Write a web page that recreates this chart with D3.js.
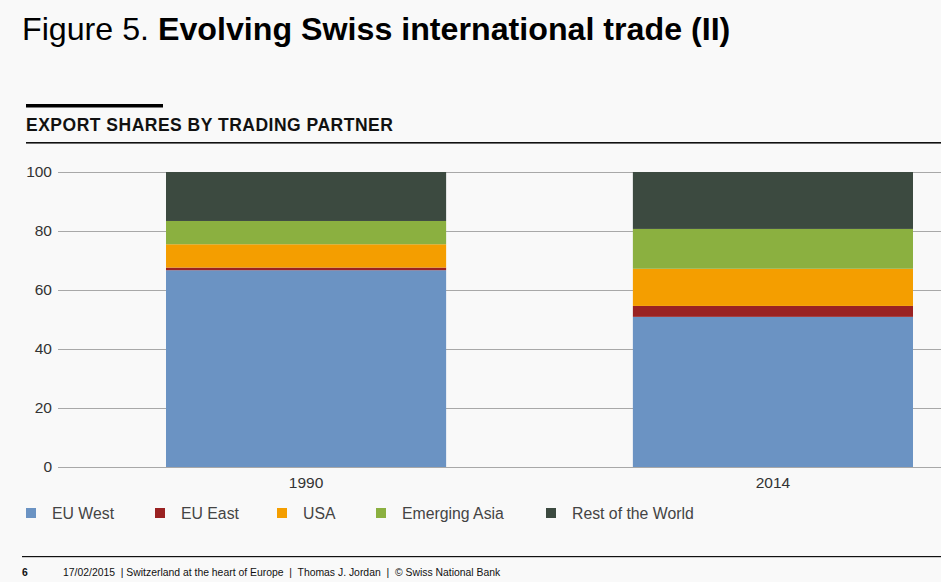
<!DOCTYPE html>
<html><head><meta charset="utf-8">
<script src="https://cdn.jsdelivr.net/npm/d3@7"></script>
<style>
html,body{margin:0;padding:0;background:#f9f9f9;}
svg{display:block;}
</style></head>
<body>
<script>
const years = ["1990", "2014"];
const seriesNames = ["EU West", "EU East", "USA", "Emerging Asia", "Rest of the World"];
const euWest = [66.7, 50.9];
const euEast = [0.9, 3.7];
const usa = [7.9, 12.6];
const emergingAsia = [7.9, 13.5];
const restOfWorld = [16.6, 19.3];
const yTicks = [0, 20, 40, 60, 80, 100];
const colors = ["#6b93c3", "#9a2222", "#f49e00", "#8bb040", "#3c4a40"];

const W = 941, H = 582;
const FONT = "Liberation Sans, Arial, sans-serif";
const svg = d3.select("body").append("svg").attr("width", W).attr("height", H);
svg.append("rect").attr("width", W).attr("height", H).attr("fill", "#f9f9f9");

// Title
const title = svg.append("text").attr("x", 22).attr("y", 40)
  .attr("font-family", FONT).attr("font-size", 32.2).attr("fill", "#000");
title.append("tspan").text("Figure 5. ");
title.append("tspan").attr("font-weight", "bold").text("Evolving Swiss international trade (II)");

// Subtitle decoration
svg.append("rect").attr("x", 26).attr("y", 104).attr("width", 137).attr("height", 3.5).attr("fill", "#000");
svg.append("text").attr("x", 26).attr("y", 131)
  .attr("font-family", FONT).attr("font-size", 17.5).attr("font-weight", "bold")
  .attr("letter-spacing", 0.5).attr("fill", "#111").text("EXPORT SHARES BY TRADING PARTNER");
svg.append("rect").attr("x", 26).attr("y", 142).attr("width", W - 26).attr("height", 1.6).attr("fill", "#111");

// Scales
const x = d3.scaleBand().domain(years).range([166, 913]).paddingInner(0.4).paddingOuter(0);
const y = d3.scaleLinear().domain([0, 100]).range([467, 172]);

// Gridlines / y axis
const yAxis = d3.axisLeft(y).tickValues(yTicks).tickSize(-(W - 58)).tickPadding(6).tickFormat(d3.format("d"));
const gy = svg.append("g").attr("transform", "translate(58,0)").call(yAxis);
gy.select(".domain").remove();
gy.selectAll(".tick line").attr("stroke", "#a8a8a8").attr("stroke-width", 1);
gy.selectAll(".tick text").attr("font-family", FONT)
  .attr("font-size", 15.5).attr("fill", "#333").attr("x", -6);

// Stacked data
const table = years.map((yr, i) => ({
  year: yr,
  "EU West": euWest[i], "EU East": euEast[i], "USA": usa[i],
  "Emerging Asia": emergingAsia[i], "Rest of the World": restOfWorld[i]
}));
const stack = d3.stack().keys(seriesNames)(table);
svg.append("g").selectAll("g").data(stack).join("g")
  .attr("fill", (d, i) => colors[i])
  .selectAll("rect").data(d => d).join("rect")
  .attr("x", d => x(d.data.year))
  .attr("width", x.bandwidth())
  .attr("y", d => y(d[1]))
  .attr("height", d => y(d[0]) - y(d[1]));

// X axis labels
const xAxis = d3.axisBottom(x).tickSize(0).tickPadding(10);
const gx = svg.append("g").attr("transform", "translate(0,467)").call(xAxis);
gx.select(".domain").remove();
gx.selectAll(".tick text").attr("font-family", FONT)
  .attr("font-size", 15.5).attr("fill", "#333");

// Legend
const legendX = [26, 155, 277, 376, 546];
const lg = svg.append("g").selectAll("g").data(seriesNames).join("g")
  .attr("transform", (d, i) => `translate(${legendX[i]},508)`);
lg.append("rect").attr("width", 10).attr("height", 10).attr("fill", (d, i) => colors[i]);
lg.append("text").attr("x", 26).attr("y", 11)
  .attr("font-family", FONT).attr("font-size", 15.8).attr("fill", "#444")
  .text(d => d);

// Footer
svg.append("rect").attr("x", 22).attr("y", 556).attr("width", W - 22).attr("height", 1.2).attr("fill", "#111");
svg.append("text").attr("x", 22).attr("y", 576)
  .attr("font-family", FONT).attr("font-size", 10.4).attr("font-weight", "bold")
  .attr("fill", "#111").text("6");
svg.append("text").attr("x", 63).attr("y", 576)
  .style("white-space", "pre")
  .attr("font-family", FONT).attr("font-size", 10.4)
  .attr("fill", "#111").text("17/02/2015  | Switzerland at the heart of Europe  |  Thomas J. Jordan  |  © Swiss National Bank");
</script>
</body></html>
